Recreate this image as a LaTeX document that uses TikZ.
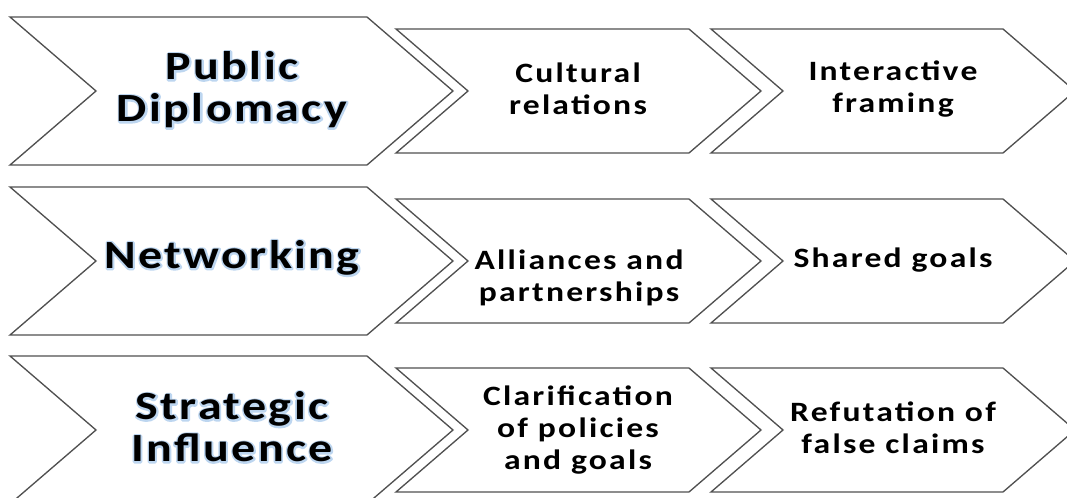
\documentclass[tikz,border=0pt]{standalone}
\usepackage{fontspec}
\newfontfamily\headfont[FakeStretch=1.2,LetterSpace=6]{Carlito Bold}
\newfontfamily\stepfont[FakeStretch=1.2,LetterSpace=8]{Carlito Bold}
\definecolor{edge}{RGB}{80,80,80}
\definecolor{glow}{RGB}{188,214,238}

% outline-only glyphs, drawn thick under the black titles as a halo
\newcommand\haloon{\special{pdf:literal direct 1 Tr 2.6 w 1 j 0.74 0.84 0.94 RG}}
\newcommand\halooff{\special{pdf:literal direct 0 Tr}}

% chevron outline: left x, centre y, body right x, half height, point depth
\newcommand\chevshape[5]{%
  \draw[chevline] (#1,#2-#4) -- (#3,#2-#4) -- (#3+#5,#2) -- (#3,#2+#4)
    -- (#1,#2+#4) -- (#1+#5,#2) -- cycle;}

\begin{document}
\begin{tikzpicture}[x=0.75pt,y=-0.75pt,
  chevline/.style={draw=edge,line width=1pt,fill=white,line join=miter},
  headlabel/.style={align=center,inner sep=0pt,
    font=\headfont\fontsize{30}{31.5}\selectfont},
  halolabel/.style={headlabel,text=glow},
  steplabel/.style={align=center,inner sep=0pt,
    font=\stepfont\fontsize{21}{24}\selectfont}]
\useasboundingbox (0,0) rectangle (1067,498);

% row 1
\chevshape{10}{91}{367}{74}{86}
\chevshape{396}{91}{689}{62}{72}
\chevshape{711}{91}{1003}{62}{72}
% row 2
\chevshape{10}{261}{367}{74}{86}
\chevshape{396}{261}{689}{62}{72}
\chevshape{711}{261}{1003}{62}{72}
% row 3
\chevshape{10}{430}{367}{74}{86}
\chevshape{396}{430}{689}{62}{72}
\chevshape{711}{430}{1003}{62}{72}

% title halos
\node[halolabel] (pdhalo) at (232,90) {\haloon Public\\\haloon Diplomacy\halooff};
\node[halolabel] (nwhalo) at (232,258) {\haloon Networking\halooff};
\node[halolabel] (sihalo) at (232,427) {\haloon Strategic\\\haloon Influence\halooff};

% labels
\node[headlabel] (pd) at (232,90) {Public\\Diplomacy};
\node[steplabel] (cr) at (578,89) {Cultural\\relations};
\node[steplabel] (if) at (893,89) {Interactive\\framing};

\node[headlabel] (nw) at (232,258) {Networking};
\node[steplabel] (ap) at (579,278) {Alliances and\\partnerships};
\node[steplabel] (sg) at (893,260) {Shared goals};

\node[headlabel] (si) at (232,427) {Strategic\\Influence};
\node[steplabel] (cp) at (578,430) {Clarification\\of policies\\and goals};
\node[steplabel] (rf) at (893,428) {Refutation of\\false claims};
\end{tikzpicture}
\end{document}
